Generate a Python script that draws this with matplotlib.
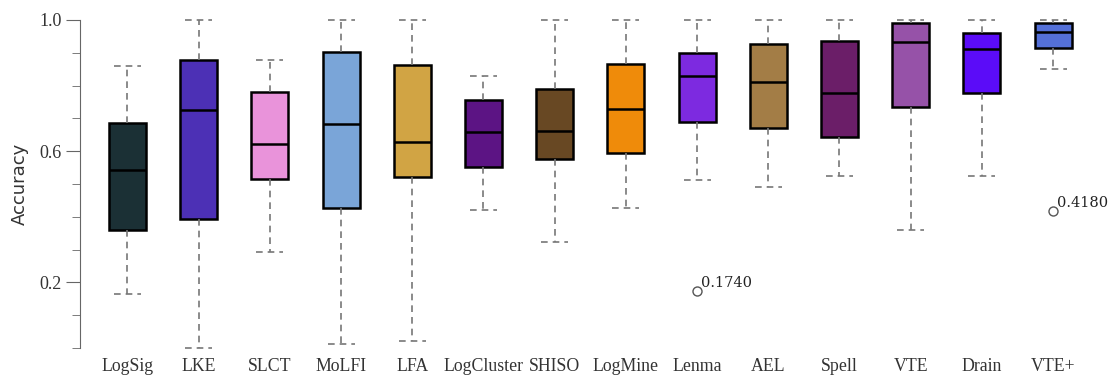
import matplotlib
matplotlib.use('Agg')
import matplotlib.pyplot as plt
from matplotlib.ticker import MultipleLocator, FixedLocator

# data
methods = ['LogSig', 'LKE', 'SLCT', 'MoLFI', 'LFA', 'LogCluster', 'SHISO',
           'LogMine', 'Lenma', 'AEL', 'Spell', 'VTE', 'Drain', 'VTE+']
whisker_low = [0.165, 0.000, 0.292, 0.011, 0.022, 0.422, 0.322,
               0.426, 0.513, 0.490, 0.523, 0.359, 0.523, 0.851]
q1 = [0.360, 0.393, 0.515, 0.426, 0.521, 0.551, 0.577,
      0.594, 0.688, 0.672, 0.643, 0.735, 0.778, 0.915]
medians = [0.542, 0.725, 0.623, 0.683, 0.627, 0.657, 0.661,
           0.729, 0.829, 0.812, 0.777, 0.932, 0.911, 0.962]
q3 = [0.686, 0.877, 0.781, 0.903, 0.864, 0.755, 0.789,
      0.866, 0.900, 0.926, 0.936, 0.992, 0.959, 0.992]
whisker_high = [0.861, 1.000, 0.877, 1.000, 1.000, 0.829, 1.000,
                1.000, 1.000, 1.000, 1.000, 1.000, 1.000, 1.000]
outliers = {'Lenma': [0.1740], 'VTE+': [0.4180]}
colors = ['#1b3035', '#4c30b5', '#e993da', '#7aa5d8', '#d1a444', '#5c1484',
          '#684823', '#ef8b0a', '#7d2ae0', '#a37d46', '#6b1e68', '#9652a8',
          '#5b0cf8', '#5470d8']

stats = []
for i, m in enumerate(methods):
    stats.append(dict(label=m, whislo=whisker_low[i], q1=q1[i], med=medians[i],
                      q3=q3[i], whishi=whisker_high[i],
                      fliers=outliers.get(m, [])))

fig = plt.figure(figsize=(11.09, 3.79), dpi=100)
ax = fig.add_axes([0.0721, 0.0818, 0.916, 0.8655])

positions = list(range(1, len(methods) + 1))
bp = ax.bxp(stats, positions=positions, widths=0.52, patch_artist=True,
            boxprops=dict(edgecolor='black', linewidth=1.8),
            medianprops=dict(color='black', linewidth=1.8),
            whiskerprops=dict(color='#777777', linewidth=1.2, linestyle=(0, (4, 3))),
            capprops=dict(color='#777777', linewidth=1.2, linestyle=(0, (4, 3))),
            capwidths=0.38,
            flierprops=dict(marker='o', markerfacecolor='none',
                            markeredgecolor='#555555', markersize=6.5,
                            markeredgewidth=1.0))
for patch, c in zip(bp['boxes'], colors):
    patch.set_facecolor(c)
for art in bp['whiskers'] + bp['caps'] + bp['medians'] + bp['boxes'] + bp['fliers']:
    art.set_clip_on(False)

# outlier labels
for m, vals in outliers.items():
    p = methods.index(m) + 1
    for v in vals:
        ax.annotate('%.4f' % v, (p, v), xytext=(2.5, 2.5), textcoords='offset points',
                    ha='left', va='baseline', fontsize=10.5,
                    family='DejaVu Serif', color='#222222')

ax.set_xlim(0.333, 14.6)
ax.set_ylim(0, 1)

for s in ['top', 'right', 'bottom']:
    ax.spines[s].set_visible(False)
ax.spines['left'].set_color('#666666')
ax.spines['left'].set_bounds(0, 1)

ax.yaxis.set_major_locator(FixedLocator([0.2, 0.6, 1.0]))
ax.yaxis.set_minor_locator(MultipleLocator(0.1))
ax.tick_params(axis='y', which='major', length=10, color='#666666', pad=3,
               labelsize=13, labelcolor='#333333')
ax.tick_params(axis='y', which='minor', length=6, color='#666666')
ax.set_yticklabels(['0.2', '0.6', '1.0'], family='Liberation Serif')

ax.set_xticks(positions)
ax.set_xticklabels(methods, family='Liberation Serif', fontsize=12.8, color='#333333')
ax.tick_params(axis='x', length=0, pad=7)

ax.set_ylabel('Accuracy', family='DejaVu Sans', fontsize=13, color='#333333')
ax.yaxis.set_label_coords(-0.05, 0.5)

fig.savefig('out.png', dpi=100)
